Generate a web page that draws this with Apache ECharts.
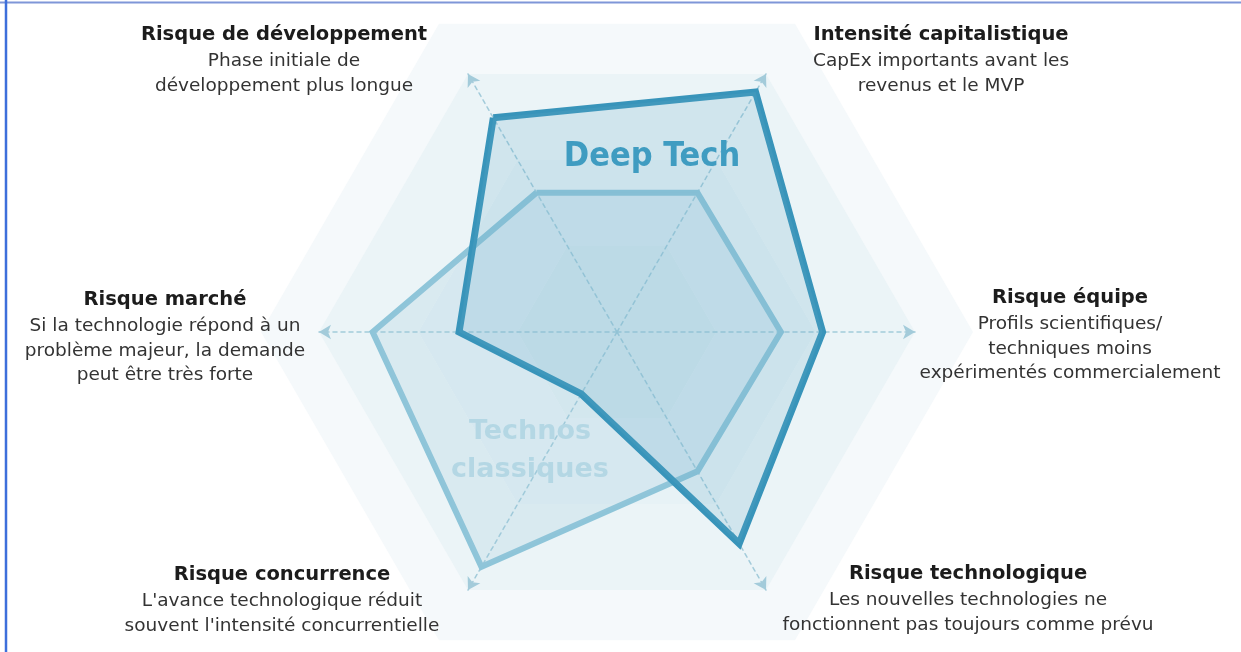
<!DOCTYPE html>
<html>
<head>
<meta charset="utf-8">
<title>Deep Tech vs Technos classiques</title>
<script src="https://cdn.jsdelivr.net/npm/echarts@6/dist/echarts.min.js"></script>
<style>
  html, body { margin: 0; padding: 0; background: #fff; }
  #chart { width: 1241px; height: 652px; }
</style>
</head>
<body>
<div id="chart"></div>
<script>
// axes, counter-clockwise from the top-left one
var axes = ['Risque de développement', 'Risque marché', 'Risque concurrence',
  'Risque technologique', 'Risque équipe', 'Intensité capitalistique']
var axisNotes = [
  'Phase initiale de\ndéveloppement plus longue',
  'Si la technologie répond à un\nproblème majeur, la demande\npeut être très forte',
  'L\'avance technologique réduit\nsouvent l\'intensité concurrentielle',
  'Les nouvelles technologies ne\nfonctionnent pas toujours comme prévu',
  'Profils scientifiques/\ntechniques moins\nexpérimentés commercialement',
  'CapEx importants avant les\nrevenus et le MVP'
]
var deepTech = [83, 53, 24, 82, 69, 93]
var technosClassiques = [54, 82, 91, 54, 55, 54]
var maxValue = 100

var chart = echarts.init(document.getElementById('chart'))

var indicator = axes.map(function(name) {
  return { name: name, max: maxValue }
})

// label blocks (title + note) around the radar
var labelPos = [
  [284, 35], [165, 300], [282, 575], [968, 574], [1070, 298], [941, 35]
]
var labels = []
axes.forEach(function(name, i) {
  labels.push({
    type: 'text',
    z: 100,
    style: {
      text: name,
      x: labelPos[i][0],
      y: labelPos[i][1],
      textAlign: 'center',
      textVerticalAlign: 'middle',
      font: 'bold 19.5px "DejaVu Sans"',
      fill: '#1c1c1c'
    }
  })
  labels.push({
    type: 'text',
    z: 100,
    style: {
      text: axisNotes[i],
      x: labelPos[i][0],
      y: labelPos[i][1] + 14,
      textAlign: 'center',
      textVerticalAlign: 'top',
      font: '18.5px "DejaVu Sans"',
      lineHeight: 24.5,
      fill: '#333'
    }
  })
})

chart.setOption({
  backgroundColor: '#fff',
  animation: false,
  radar: [
    { // faint outer hexagon
      center: [617, 332],
      radius: 356,
      startAngle: 120,
      shape: 'polygon',
      splitNumber: 1,
      indicator: indicator,
      axisName: { show: false },
      axisLine: { show: false },
      splitLine: { show: false },
      splitArea: { areaStyle: { color: ['#f5f9fb'] } },
      z: 0
    },
    {
      center: [617, 332],
      radius: 298,
      startAngle: 120,
      shape: 'polygon',
      splitNumber: 3,
      indicator: indicator,
      axisName: { show: false },
      axisLine: {
        symbol: ['none', 'arrow'],
        symbolSize: [11, 12],
        lineStyle: { color: '#a3cbda', type: [4, 4], width: 1.5 }
      },
      splitLine: { show: false },
      splitArea: { areaStyle: { color: ['#e4f0f4', '#e7f2f6', '#ebf4f7'] } },
      z: 1
    }
  ],
  series: [{
    type: 'radar',
    radarIndex: 1,
    symbol: 'none',
    z: 3,
    data: [
      {
        name: 'Technos classiques',
        value: technosClassiques,
        lineStyle: { color: '#8ec5d9', width: 6, join: 'miter' },
        areaStyle: { color: 'rgba(150, 200, 218, 0.3)' }
      },
      {
        name: 'Deep Tech',
        value: deepTech,
        lineStyle: { color: '#3894ba', width: 7, join: 'miter' },
        areaStyle: { color: 'rgba(95, 168, 198, 0.28)' }
      }
    ]
  }],
  graphic: labels.concat([
    {
      type: 'text',
      z: 100,
      style: {
        text: 'Deep Tech', x: 652, y: 157, textAlign: 'center', textVerticalAlign: 'middle',
        font: 'bold 34px "DejaVu Sans Condensed"', fill: '#3f9cc1'
      }
    },
    {
      type: 'text',
      z: 100,
      style: {
        text: 'Technos\nclassiques', x: 530, y: 451, textAlign: 'center', textVerticalAlign: 'middle',
        font: 'bold 27px "DejaVu Sans"', lineHeight: 38, fill: '#b4d7e4'
      }
    },
    // thin frame around the figure
    { type: 'line', z: 100, shape: { x1: 0, y1: 2.5, x2: 1241, y2: 2.5 }, style: { stroke: '#7f96d8', lineWidth: 2 } },
    { type: 'line', z: 100, shape: { x1: 6, y1: 0, x2: 6, y2: 652 }, style: { stroke: '#3d6fdb', lineWidth: 2.5 } }
  ])
})
</script>
</body>
</html>
